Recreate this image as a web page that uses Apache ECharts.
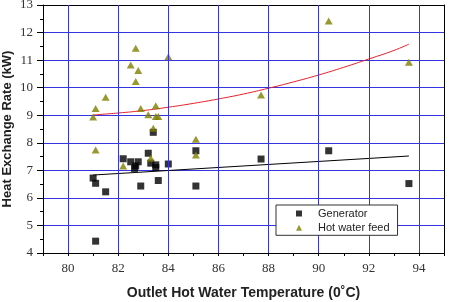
<!DOCTYPE html>
<html>
<head>
<meta charset="utf-8">
<script src="https://cdn.jsdelivr.net/npm/echarts@6/dist/echarts.min.js"></script>
<style>html,body{margin:0;padding:0;background:#fff;}#c{width:449px;height:302px;}</style>
</head>
<body>
<div id="c"></div>
<script>
// Generator measurements [temperature, heat rate]
var generatorData = [
  [81.0, 6.72], [81.1, 6.53], [81.5, 6.22], [81.1, 4.43],
  [82.2, 7.42], [82.5, 7.31], [82.8, 7.31], [82.65, 7.07], [82.7, 7.16],
  [82.9, 6.43], [83.2, 7.62], [83.3, 7.26], [83.5, 7.20], [83.5, 7.10],
  [83.4, 8.38], [83.6, 6.63], [84.0, 7.23], [85.1, 7.71], [85.1, 6.43],
  [87.7, 7.41], [90.4, 7.71], [93.6, 6.52]
];
// Hot water feed measurements
var hotWaterData = [
  [81.0, 8.94], [81.1, 9.24], [81.1, 7.74], [81.5, 9.65],
  [82.2, 7.16], [82.5, 10.82], [82.7, 11.43], [82.8, 10.62], [82.7, 10.22],
  [82.9, 9.24], [83.2, 9.02], [83.3, 7.44], [83.4, 8.53], [83.5, 9.34],
  [83.5, 8.95], [83.6, 8.95], [84.0, 11.12], [85.1, 8.13], [85.1, 7.56],
  [87.7, 9.73], [90.4, 12.42], [93.6, 10.92]
];
// Trend lines
var generatorTrend = [[81.0, 6.83], [93.6, 7.52]];
var hotWaterTrend = [
  [81, 9.01], [82, 9.08], [83, 9.17], [84, 9.29], [85, 9.43], [86, 9.59],
  [87, 9.77], [88, 9.98], [89, 10.21], [90, 10.46], [91, 10.74], [92, 11.04],
  [93, 11.35], [93.6, 11.58]
];
var xGridTicks = [80, 82, 84, 86, 88, 90, 92, 94];
var seriesNames = ['Generator', 'Hot water feed'];
var xTitle = 'Outlet Hot Water Temperature (0˚C)';
var yTitle = 'Heat Exchange Rate (kW)';

var SANS = "'Liberation Sans', Arial, sans-serif";
var SERIF = "'Liberation Serif', 'Times New Roman', serif";
var gridBlue = '#3434e0';
var yMin = 4, yMax = 13;
var chart = echarts.init(document.getElementById('c'), null, {renderer: 'canvas'});
chart.setOption({
  animation: false,
  backgroundColor: '#fff',
  grid: {left: 43, right: 5, top: 5, bottom: 49, containLabel: false, outerBoundsMode: 'none'},
  legend: {
    orient: 'vertical', left: 276, top: 205,
    data: seriesNames,
    itemWidth: 6, itemHeight: 6, itemGap: 1.3,
    padding: [2, 8, 1, 20],
    borderColor: '#333', borderWidth: 1, backgroundColor: '#fff',
    textStyle: {fontFamily: SANS, fontSize: 11, color: '#222', lineHeight: 13, padding: [0, 0, 0, 11]},
    z: 10
  },
  xAxis: [{
    type: 'value', min: 79, max: 95, interval: 1,
    name: xTitle, nameLocation: 'middle', nameGap: 33,
    nameTextStyle: {fontFamily: SANS, fontWeight: 'bold', fontSize: 14, color: '#222'},
    axisLine: {show: true, lineStyle: {color: '#000', width: 1}},
    axisTick: {show: true, length: 3, inside: false, lineStyle: {color: '#000'}},
    axisLabel: {
      margin: 9, fontFamily: SERIF, fontSize: 13, color: '#333',
      formatter: function (v) { return (Math.round(v) % 2 === 0) ? String(v) : ''; }
    },
    splitLine: {show: false}
  }, {
    type: 'value', min: 79, max: 95, position: 'top',
    axisLine: {show: true, onZero: false, lineStyle: {color: '#000', width: 1}},
    axisTick: {show: false}, axisLabel: {show: false}, splitLine: {show: false}
  }],
  yAxis: [{
    type: 'value', min: yMin, max: yMax, interval: 1,
    name: yTitle, nameLocation: 'middle', nameGap: 29, nameMoveOverlap: false,
    nameTextStyle: {fontFamily: SANS, fontWeight: 'bold', fontSize: 13, color: '#222'},
    axisLine: {show: true, lineStyle: {color: '#000', width: 1}},
    axisTick: {show: true, length: 6, lineStyle: {color: '#000'}},
    minorTick: {show: true, splitNumber: 2, length: 3, lineStyle: {color: '#000'}},
    axisLabel: {margin: 10, fontFamily: SERIF, fontSize: 13, color: '#333'},
    splitLine: {show: true, lineStyle: {color: gridBlue, width: 1}}
  }, {
    type: 'value', min: yMin, max: yMax, position: 'right',
    axisLine: {show: true, onZero: false, lineStyle: {color: '#000', width: 1}},
    axisTick: {show: false}, axisLabel: {show: false}, splitLine: {show: false}
  }],
  series: [{
    type: 'line', name: 'gridlines', data: [], silent: true, z: 1, clip: false,
    markLine: {
      silent: true, symbol: 'none', animation: false,
      label: {show: false},
      lineStyle: {color: gridBlue, width: 1, type: 'solid'},
      data: xGridTicks.map(function (v) { return {xAxis: v}; })
    }
  }, {
    type: 'line', name: 'majorTicks', data: [], silent: true, z: 1, clip: false,
    markLine: {
      silent: true, symbol: 'none', animation: false,
      label: {show: false},
      lineStyle: {color: '#000', width: 1, type: 'solid'},
      data: xGridTicks.map(function (v) { return [{coord: [v, yMin]}, {coord: [v, yMin - 0.22]}]; })
    }
  }, {
    type: 'line', name: 'genTrend', data: generatorTrend, symbol: 'none', z: 2,
    lineStyle: {color: '#000', width: 1}, silent: true
  }, {
    type: 'line', name: 'hotTrend', data: hotWaterTrend, symbol: 'none', smooth: true, z: 2,
    lineStyle: {color: '#e8202a', width: 1}, silent: true
  }, {
    type: 'scatter', name: seriesNames[0], data: generatorData, z: 3,
    symbol: 'rect', symbolSize: 7, itemStyle: {color: '#000'}
  }, {
    type: 'scatter', name: seriesNames[1], data: hotWaterData, z: 4,
    symbol: 'triangle', symbolSize: [8, 7], itemStyle: {color: '#808000'}
  }]
});
</script>
</body>
</html>
